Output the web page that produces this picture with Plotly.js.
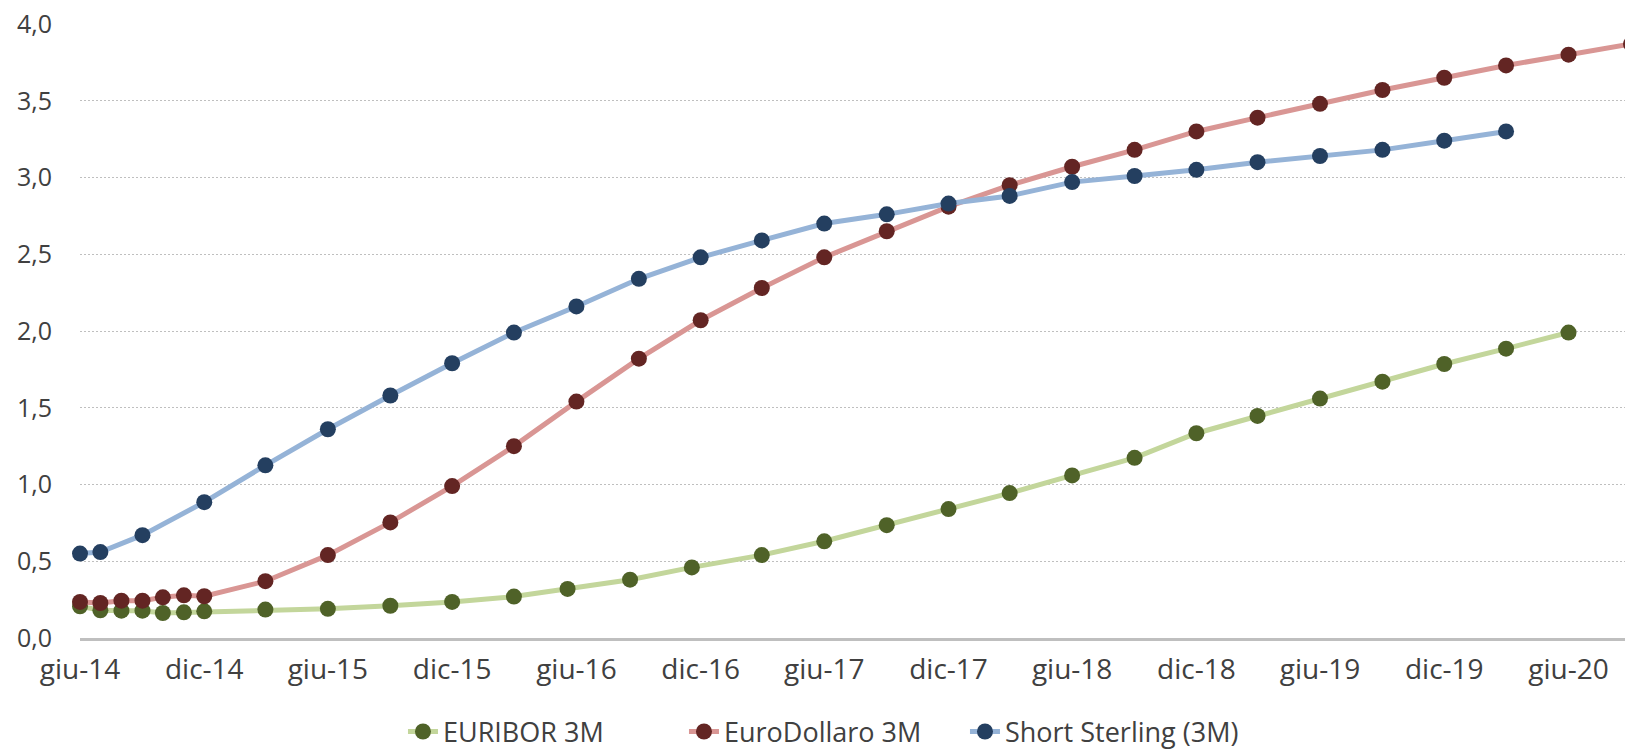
<!DOCTYPE html>
<html>
<head>
<meta charset="utf-8">
<script src="https://cdn.plot.ly/plotly-3.0.1.min.js"></script>
<style>
html,body{margin:0;padding:0;background:#fff;overflow:hidden;}
#chart{width:1631px;height:750px;}
</style>
</head>
<body>
<div id="chart"></div>
<script>
// ---- data ----
const euriborDates = ["2014-06-01","2014-07-01","2014-08-01","2014-09-01","2014-10-01","2014-11-01","2014-12-01",
  "2015-03-01","2015-06-01","2015-09-01","2015-12-01","2016-03-01","2016-05-19","2016-08-19","2016-11-18",
  "2017-03-01","2017-06-01","2017-09-01","2017-12-01","2018-03-01","2018-06-01","2018-09-01","2018-12-01",
  "2019-03-01","2019-06-01","2019-09-01","2019-12-01","2020-03-01","2020-06-01"];
const euriborValues = [0.207,0.18,0.178,0.178,0.163,0.167,0.174,
  0.185,0.19,0.21,0.235,0.27,0.32,0.38,0.46,
  0.54,0.63,0.735,0.84,0.944,1.059,1.174,1.334,
  1.447,1.56,1.67,1.785,1.885,1.99];

const eurodollarDates = ["2014-06-01","2014-07-01","2014-08-01","2014-09-01","2014-10-01","2014-11-01","2014-12-01",
  "2015-03-01","2015-06-01","2015-09-01","2015-12-01","2016-03-01","2016-06-01","2016-09-01","2016-12-01",
  "2017-03-01","2017-06-01","2017-09-01","2017-12-01","2018-03-01","2018-06-01","2018-09-01","2018-12-01",
  "2019-03-01","2019-06-01","2019-09-01","2019-12-01","2020-03-01","2020-06-01","2020-09-01"];
const eurodollarValues = [0.235,0.228,0.243,0.243,0.265,0.278,0.272,
  0.37,0.54,0.753,0.99,1.25,1.54,1.82,2.07,
  2.28,2.48,2.65,2.81,2.95,3.07,3.18,3.30,
  3.39,3.48,3.57,3.65,3.73,3.80,3.87];

const sterlingDates = ["2014-06-01","2014-07-01","2014-09-01","2014-12-01",
  "2015-03-01","2015-06-01","2015-09-01","2015-12-01","2016-03-01","2016-06-01","2016-09-01","2016-12-01",
  "2017-03-01","2017-06-01","2017-09-01","2017-12-01","2018-03-01","2018-06-01","2018-09-01","2018-12-01",
  "2019-03-01","2019-06-01","2019-09-01","2019-12-01","2020-03-01"];
const sterlingValues = [0.55,0.56,0.67,0.885,
  1.125,1.36,1.58,1.79,1.99,2.16,2.34,2.48,
  2.59,2.70,2.76,2.83,2.88,2.97,3.01,3.05,
  3.10,3.14,3.18,3.24,3.30];

const seriesNames = ["EURIBOR 3M","EuroDollaro 3M","Short Sterling (3M)"];

const tickDates = ["2014-06-01","2014-12-01","2015-06-01","2015-12-01","2016-06-01","2016-12-01",
  "2017-06-01","2017-12-01","2018-06-01","2018-12-01","2019-06-01","2019-12-01","2020-06-01"];
const tickLabels = ["giu-14","dic-14","giu-15","dic-15","giu-16","dic-16",
  "giu-17","dic-17","giu-18","dic-18","giu-19","dic-19","giu-20"];

// ---- styles ----
const FONT = "'Open Sans', 'DejaVu Sans', sans-serif";
function mk(name, x, y, lineColor, markerColor){
  return {
    type: "scatter", mode: "lines+markers", name: name, x: x, y: y,
    line: {color: lineColor, width: 5},
    marker: {color: markerColor, size: 16},
    cliponaxis: false
  };
}
const data = [
  mk(seriesNames[0], euriborDates, euriborValues, "#c3d69b", "#4f6228"),
  mk(seriesNames[1], eurodollarDates, eurodollarValues, "#d99694", "#632523"),
  mk(seriesNames[2], sterlingDates, sterlingValues, "#95b3d7", "#243f60")
];

const layout = {
  width: 1631, height: 750,
  margin: {l: 80, r: 0, t: 24, b: 112, autoexpand: false},
  paper_bgcolor: "#ffffff", plot_bgcolor: "#ffffff",
  separators: ",.",
  font: {family: FONT, size: 25, color: "#404040"},
  showlegend: true,
  legend: {
    orientation: "h", x: 0.48, xanchor: "center", y: -0.153, yanchor: "middle",
    font: {family: FONT, size: 27, color: "#404040"},
    entrywidth: 236, entrywidthmode: "pixels",
    traceorder: "normal"
  },
  xaxis: {
    type: "date",
    range: ["2014-06-01", "2020-09-01"],
    tickmode: "array", tickvals: tickDates, ticktext: tickLabels,
    showgrid: false, zeroline: false,
    showline: true, linecolor: "#bfbfbf", linewidth: 3,
    ticks: "", ticklabelstandoff: 4,
    tickfont: {family: FONT, size: 28, color: "#404040"}
  },
  yaxis: {
    range: [0, 4], dtick: 0.5, tick0: 0, tickformat: ".1f",
    showgrid: true, gridcolor: "#bfbfbf", gridwidth: 1, griddash: "2px,2px",
    zeroline: false, showline: false, ticks: "",
    ticklabelstandoff: 27,
    tickfont: {family: FONT, size: 25, color: "#404040"}
  }
};

Plotly.newPlot("chart", data, layout, {staticPlot: true, displayModeBar: false});
</script>
</body>
</html>
